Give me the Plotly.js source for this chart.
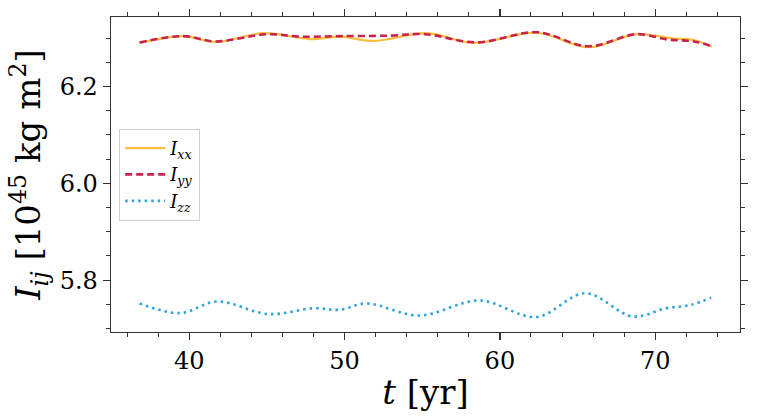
<!DOCTYPE html>
<html>
<head>
<meta charset="utf-8">
<script src="https://cdn.plot.ly/plotly-3.0.1.min.js"></script>
<style>html,body{margin:0;padding:0;background:#fff;}#plot{width:758px;height:420px;}</style>
</head>
<body>
<div id="plot"></div>
<script>
// Series I_xx (solid)
const tXX = [36.8, 39.6, 41.7, 44.8, 47.8, 49.7, 51.85, 55.3, 58.3, 62.4, 65.7, 68.8, 71.2, 72.5, 73.65];
const vXX = [6.290, 6.304, 6.292, 6.310, 6.298, 6.303, 6.294, 6.310, 6.290, 6.311, 6.281, 6.308, 6.299, 6.296, 6.282];
// Series I_yy (dashed)
const tYY = [36.8, 39.6, 41.7, 45.0, 47.1, 49.7, 52.9, 55.2, 58.5, 62.4, 65.7, 68.8, 70.8, 72.5, 73.65];
const vYY = [6.291, 6.304, 6.293, 6.308, 6.303, 6.304, 6.305, 6.308, 6.291, 6.312, 6.283, 6.308, 6.297, 6.293, 6.283];
// Series I_zz (dotted)
const tZZ = [36.8, 39.4, 41.8, 45.1, 48.0, 49.7, 51.4, 54.8, 58.7, 62.35, 65.5, 68.55, 70.7, 72.3, 73.6];
const vZZ = [5.752, 5.732, 5.756, 5.730, 5.742, 5.739, 5.752, 5.727, 5.758, 5.724, 5.773, 5.725, 5.742, 5.749, 5.764];
const names = ['<i>I</i><sub><i>xx</i></sub>', '<i>I</i><sub><i>yy</i></sub>', '<i>I</i><sub><i>zz</i></sub>'];
const colors = ['#F9BE3E', '#C8234F', '#2FA3DC'];
const xTicks = [40, 50, 60, 70];
const yTicks = [5.8, 6.0, 6.2];

const traces = [
  {x: tXX, y: vXX, name: names[0], mode: 'lines', line: {color: colors[0], width: 2.2, shape: 'spline', smoothing: 1}},
  {x: tYY, y: vYY, name: names[1], mode: 'lines', line: {color: colors[1], width: 2.6, dash: '7px,4px', shape: 'spline', smoothing: 1}},
  {x: tZZ, y: vZZ, name: names[2], mode: 'lines', line: {color: colors[2], width: 2.6, dash: '2.5px,4px', shape: 'spline', smoothing: 1}}
];

const serif = 'DejaVu Serif, Liberation Serif, serif';
const axisCommon = {
  showgrid: false, zeroline: false, showline: true, linecolor: '#333', linewidth: 1.3,
  mirror: 'ticks', ticks: 'outside', ticklen: 7, tickwidth: 1.3, tickcolor: '#333',
  tickfont: {family: serif, size: 24, color: '#000'}
};

const layout = {
  width: 758, height: 420,
  margin: {l: 111, r: 18, t: 17, b: 88},
  paper_bgcolor: '#fff', plot_bgcolor: '#fff',
  showlegend: true,
  legend: {
    x: 0.013, y: 0.645, xanchor: 'left', yanchor: 'top',
    bgcolor: 'rgba(255,255,255,0.8)', bordercolor: '#d0d0d0', borderwidth: 1,
    font: {family: serif, size: 18, color: '#000'},
    tracegroupgap: 0, itemwidth: 40
  },
  xaxis: Object.assign({}, axisCommon, {
    range: [34.96, 75.46], tickvals: xTicks, ticktext: xTicks.map(String),
    minor: {dtick: 2, tick0: 0, ticks: 'outside', ticklen: 4, tickwidth: 1, tickcolor: '#333'},
    title: {text: '<i>t</i> [yr]', font: {family: serif, size: 34, color: '#000'}, standoff: 6}
  }),
  yaxis: Object.assign({}, axisCommon, {
    range: [5.693, 6.3435], tickvals: yTicks, ticktext: yTicks.map(v => v.toFixed(1)),
    minor: {dtick: 0.05, tick0: 0, ticks: 'outside', ticklen: 4, tickwidth: 1, tickcolor: '#333'},
    title: {text: '<i>I</i><sub><i>ij</i></sub> [10<sup>45</sup> kg m<sup>2</sup>]', font: {family: serif, size: 34, color: '#000'}, standoff: 8}
  })
};

Plotly.newPlot('plot', traces, layout, {displayModeBar: false, staticPlot: true});
</script>
</body>
</html>
